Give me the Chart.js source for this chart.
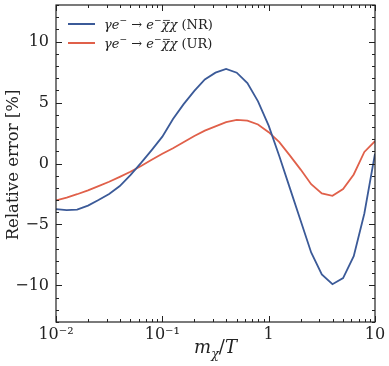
<!DOCTYPE html>
<html>
<head>
<meta charset="utf-8">
<script src="https://cdn.jsdelivr.net/npm/chart.js@4.4.1/dist/chart.umd.min.js"></script>
<style>
  html, body { margin: 0; padding: 0; background: #fff; }
  #wrap { width: 389px; height: 366px; }
</style>
</head>
<body>
<div id="wrap"><canvas id="ch" width="389" height="366"></canvas></div>
<script>
// m_chi / T sample points (log spaced, 10 per decade)
const mOverT = [0.01, 0.0126, 0.0158, 0.02, 0.0251, 0.0316, 0.0398, 0.0501, 0.0631, 0.0794,
  0.1, 0.126, 0.158, 0.2, 0.251, 0.316, 0.398, 0.501, 0.631, 0.794,
  1, 1.26, 1.58, 2, 2.51, 3.16, 3.98, 5.01, 6.31, 7.94, 10];

// relative error [%]
const errNR = [-3.75, -3.83, -3.78, -3.45, -3.0, -2.5, -1.85, -0.95, 0.05, 1.1,
  2.2, 3.65, 4.85, 5.95, 6.9, 7.45, 7.75, 7.45, 6.6, 5.1,
  3.1, 0.6, -2.0, -4.7, -7.3, -9.1, -9.9, -9.4, -7.6, -4.1, 0.8];
const errUR = [-3.03, -2.8, -2.52, -2.2, -1.85, -1.5, -1.1, -0.68, -0.2, 0.3,
  0.8, 1.25, 1.75, 2.25, 2.7, 3.05, 3.4, 3.58, 3.52, 3.2,
  2.57, 1.75, 0.67, -0.5, -1.7, -2.45, -2.65, -2.1, -0.9, 0.95, 1.83];

const seriesNames = ['γe⁻ → e⁻χ̄χ (NR)', 'γe⁻ → e⁻χ̄χ (UR)'];
const seriesTags = ['(NR)', '(UR)'];
const seriesColors = ['#3b5a98', '#e0604a'];

const xMajor = [0.01, 0.1, 1, 10];
const xMajorLabels = ['10⁻²', '10⁻¹', '1', '10'];
const xMinor = [0.02, 0.03, 0.04, 0.05, 0.06, 0.07, 0.08, 0.09,
  0.2, 0.3, 0.4, 0.5, 0.6, 0.7, 0.8, 0.9, 2, 3, 4, 5, 6, 7, 8, 9];
const yMajor = [-10, -5, 0, 5, 10];
const yMinor = [-13, -12, -11, -9, -8, -7, -6, -4, -3, -2, -1, 1, 2, 3, 4, 6, 7, 8, 9, 11, 12, 13];

const FONT = '"DejaVu Serif", serif';
const INK = '#222';

function pts(ys) { return mOverT.map((x, i) => ({ x: x, y: ys[i] })); }

// small rich-text helper: italic / superscript / subscript / overbar runs
function runFont(r, size) {
  const s = (r.sup || r.sub) ? size * 0.7 : size;
  return (r.it ? 'italic ' : '') + s + 'px ' + FONT;
}
function runsWidth(ctx, runs, size) {
  let w = 0;
  runs.forEach(r => { ctx.font = runFont(r, size); w += ctx.measureText(r.t).width; });
  return w;
}
function drawRuns(ctx, x, y, runs, size) {
  runs.forEach(r => {
    ctx.font = runFont(r, size);
    const dy = r.sup ? -size * 0.4 : r.sub ? size * 0.25 : 0;
    ctx.fillText(r.t, x, y + dy);
    const w = ctx.measureText(r.t).width;
    if (r.bar) {
      ctx.save();
      ctx.lineWidth = 0.8;
      ctx.beginPath();
      ctx.moveTo(x + 1.5, y - size * 0.62);
      ctx.lineTo(x + w + 0.5, y - size * 0.62);
      ctx.stroke();
      ctx.restore();
    }
    x += w;
  });
  return x;
}

function procRuns(tag) {
  return [
    { t: 'γ', it: true }, { t: 'e', it: true }, { t: '−', sup: true },
    { t: ' → ' }, { t: 'e', it: true }, { t: '−', sup: true },
    { t: 'χ', it: true, bar: true }, { t: 'χ', it: true }, { t: ' ' + tag }
  ];
}

const decor = {
  id: 'decor',
  afterDatasetsDraw(chart) {
    const { ctx, chartArea: a, scales: { x, y } } = chart;
    ctx.save();
    ctx.strokeStyle = INK;
    ctx.fillStyle = INK;
    ctx.lineWidth = 1;

    // inward ticks on all four sides
    ctx.beginPath();
    const tx = (v, len) => {
      const p = Math.round(x.getPixelForValue(v)) + 0.5;
      ctx.moveTo(p, a.bottom); ctx.lineTo(p, a.bottom - len);
      ctx.moveTo(p, a.top); ctx.lineTo(p, a.top + len);
    };
    const ty = (v, len) => {
      const p = Math.round(y.getPixelForValue(v)) + 0.5;
      ctx.moveTo(a.left, p); ctx.lineTo(a.left + len, p);
      ctx.moveTo(a.right, p); ctx.lineTo(a.right - len, p);
    };
    xMajor.forEach(v => tx(v, 6));
    xMinor.forEach(v => tx(v, 3));
    yMajor.forEach(v => ty(v, 6));
    yMinor.forEach(v => ty(v, 3));
    ctx.stroke();

    ctx.lineWidth = 1.2;
    ctx.strokeRect(a.left, a.top, a.right - a.left, a.bottom - a.top);

    // legend (top left, inside the axes)
    chart.data.datasets.forEach((ds, i) => {
      const ly = a.top + 19 + i * 19;
      ctx.save();
      ctx.strokeStyle = ds.borderColor;
      ctx.lineWidth = 2;
      ctx.beginPath();
      ctx.moveTo(a.left + 12, ly); ctx.lineTo(a.left + 39, ly);
      ctx.stroke();
      ctx.restore();
      ctx.textBaseline = 'alphabetic';
      ctx.textAlign = 'left';
      drawRuns(ctx, a.left + 48, ly + 4.5, procRuns(seriesTags[i]), 13);
    });

    // x axis title: m_chi / T
    const xt = [{ t: 'm', it: true }, { t: 'χ', it: true, sub: true }, { t: '/' }, { t: 'T', it: true }];
    const w = runsWidth(ctx, xt, 18);
    drawRuns(ctx, (a.left + a.right) / 2 - w / 2, 353, xt, 18);

    // y axis title
    ctx.translate(14, 165);
    ctx.rotate(-Math.PI / 2);
    ctx.font = '16.5px ' + FONT;
    ctx.textAlign = 'center';
    ctx.textBaseline = 'middle';
    ctx.fillText('Relative error [%]', 0, 0);
    ctx.restore();
  }
};

new Chart(document.getElementById('ch').getContext('2d'), {
  type: 'line',
  data: {
    datasets: [
      { label: seriesNames[0], data: pts(errNR), borderColor: seriesColors[0], borderWidth: 1.8, pointRadius: 0, tension: 0 },
      { label: seriesNames[1], data: pts(errUR), borderColor: seriesColors[1], borderWidth: 1.8, pointRadius: 0, tension: 0 }
    ]
  },
  options: {
    responsive: false,
    animation: false,
    devicePixelRatio: 1,
    layout: { padding: { top: 5, right: 14, left: 0, bottom: 0 } },
    plugins: { legend: { display: false }, tooltip: { enabled: false } },
    scales: {
      x: {
        type: 'logarithmic', min: 0.01, max: 10,
        grid: { display: false, drawTicks: false }, border: { display: false },
        afterBuildTicks: s => { s.ticks = xMajor.map(v => ({ value: v })); },
        afterFit: s => { s.height = 44; s.paddingLeft = 0; s.paddingRight = 0; },
        ticks: {
          autoSkip: false, maxRotation: 0, padding: 3, color: INK,
          font: { family: FONT, size: 16 },
          callback: (v, i) => xMajorLabels[i]
        }
      },
      y: {
        min: -13, max: 13,
        grid: { display: false, drawTicks: false }, border: { display: false },
        afterBuildTicks: s => { s.ticks = yMajor.map(v => ({ value: v })); },
        afterFit: s => { s.width = 56; s.paddingTop = 0; s.paddingBottom = 0; },
        ticks: {
          padding: 7, color: INK,
          font: { family: FONT, size: 16 },
          callback: v => (v < 0 ? '−' + Math.abs(v) : String(v))
        }
      }
    }
  },
  plugins: [decor]
});
</script>
</body>
</html>
